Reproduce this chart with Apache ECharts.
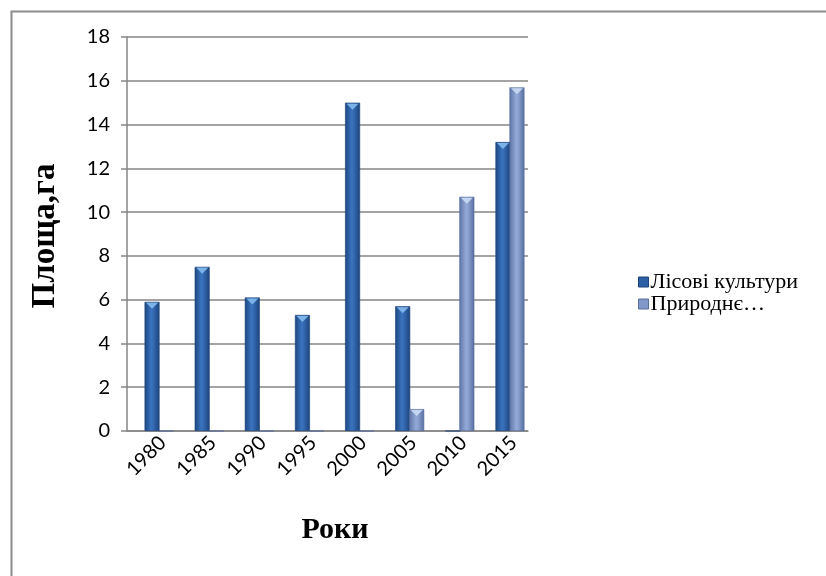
<!DOCTYPE html>
<html>
<head>
<meta charset="utf-8">
<script src="https://cdn.jsdelivr.net/npm/echarts@6/dist/echarts.min.js"></script>
<style>
html,body{margin:0;padding:0;background:#fff;}
#c{width:826px;height:576px;}
</style>
</head>
<body>
<div id="c"></div>
<script>
var years = ['1980','1985','1990','1995','2000','2005','2010','2015'];
var lisovi = [5.9, 7.5, 6.1, 5.3, 15.0, 5.7, 0, 13.2];
var pryrodne = [0, 0, 0, 0, 0, 1.0, 10.7, 15.7];
var yTicks = {min: 0, max: 18, interval: 2};
var seriesNames = ['Лісові культури', 'Природнє…'];

var chart = echarts.init(document.getElementById('c'));
var darkGrad = new echarts.graphic.LinearGradient(0,0,1,0,[
  {offset:0,color:'#1c467f'},{offset:0.45,color:'#3a74c0'},{offset:0.6,color:'#3468b0'},{offset:1,color:'#1b437a'}]);
var lightGrad = new echarts.graphic.LinearGradient(0,0,1,0,[
  {offset:0,color:'#5c74a6'},{offset:0.45,color:'#93a9d6'},{offset:0.6,color:'#8aa0cf'},{offset:1,color:'#566d9e'}]);
var dummy = years.map(function(){return '-';});
function capsOf(arr){ return arr.map(function(v){ return v > 0 ? v : '-'; }); }

chart.setOption({
  animation:false,
  backgroundColor:'#fff',
  grid:{left:127, right:298, top:37, bottom:145, containLabel:false},
  legend:{
    orient:'vertical', left:633, top:266, itemWidth:10, itemHeight:10, itemGap:0,
    textStyle:{fontFamily:'Liberation Serif', fontSize:22, color:'#000', padding:[0,0,0,-3]},
    data:[
      {name:seriesNames[0], icon:'rect', itemStyle:{color:'#2c5fa3', borderColor:'#1b437a', borderWidth:1}},
      {name:seriesNames[1], icon:'rect', itemStyle:{color:'#8199c9', borderColor:'#566d9e', borderWidth:1}}
    ]
  },
  xAxis:[{
    type:'category', data:years,
    axisLine:{lineStyle:{color:'#868686', width:1.5}},
    axisTick:{show:false},
    axisLabel:{rotate:45, margin:-2, fontFamily:'Lato', fontSize:20, color:'#000',
      formatter:function(v){return '{a|' + v + '}';},
      rich:{a:{fontFamily:'Lato', fontSize:20, color:'#000', padding:[30,0,0,0]}}}
  },{
    type:'category', data:years, show:false
  }],
  yAxis:{
    type:'value', min:yTicks.min, max:yTicks.max, interval:yTicks.interval,
    axisLine:{show:true, lineStyle:{color:'#868686', width:1.5}},
    axisTick:{show:true, length:6, lineStyle:{color:'#868686', width:1.5}},
    splitLine:{lineStyle:{color:'#868686', width:1.5}},
    axisLabel:{margin:17, fontFamily:'Lato', fontSize:20, color:'#000'}
  },
  series:[
    {name:seriesNames[0], type:'bar', xAxisIndex:0, data:lisovi, barWidth:15,
     itemStyle:{color:darkGrad, borderColor:'#1b437a', borderWidth:0.6}},
    {name:'_pad', type:'bar', xAxisIndex:1, data:dummy, barWidth:15, barGap:'87%'},
    {name:seriesNames[1], type:'bar', xAxisIndex:1, data:pryrodne, barWidth:15, barGap:'87%',
     itemStyle:{color:lightGrad, borderColor:'#566d9e', borderWidth:0.6}},
    {name:'_cap1', type:'scatter', xAxisIndex:0, data:capsOf(lisovi), symbol:'triangle', symbolRotate:180,
     symbolSize:[12,6], symbolOffset:[0,4], itemStyle:{color:'#7fb6ea', opacity:0.95}, silent:true, z:5},
    {name:'_cap2', type:'scatter', xAxisIndex:0, data:capsOf(pryrodne), symbol:'triangle', symbolRotate:180,
     symbolSize:[12,6], symbolOffset:[14,4], itemStyle:{color:'#c8d8f2', opacity:0.95}, silent:true, z:5}
  ],
  graphic:[
    {type:'rect', left:9, top:9, shape:{width:900, height:700},
     style:{fill:'none', stroke:'#8c8c8c', lineWidth:2}, silent:true},
    {type:'text', x:335, y:530, style:{text:'Роки', font:'bold 30px "Liberation Serif"', fill:'#000', align:'center', verticalAlign:'middle'}},
    {type:'text', x:45, y:236, rotation:Math.PI/2, style:{text:'Площа,га', font:'bold 33px "Liberation Serif"', fill:'#000', align:'center', verticalAlign:'middle'}}
  ]
});
</script>
</body>
</html>
